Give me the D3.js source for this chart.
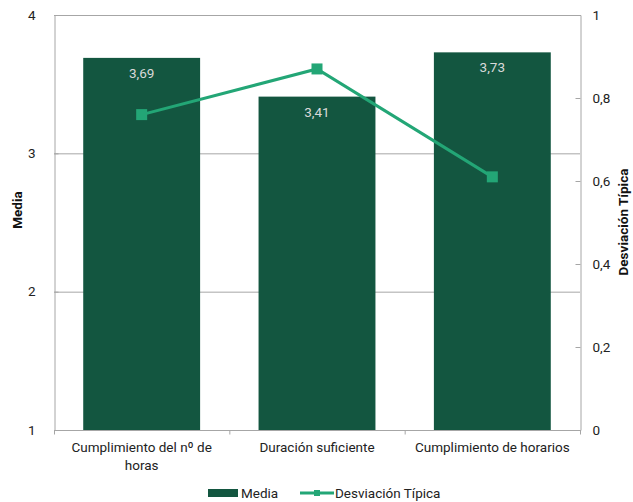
<!DOCTYPE html>
<html><head><meta charset="utf-8">
<script src="https://cdn.jsdelivr.net/npm/d3@7"></script>
<style>body{margin:0;background:#fff}svg{display:block;font-family:Roboto,"Liberation Sans",sans-serif}</style>
</head><body><svg id="c" width="633" height="502"></svg>
<script>
const categories = [["Cumplimiento del nº de","horas"],["Duración suficiente"],["Cumplimiento de horarios"]];
const mediaValues = [3.69, 3.41, 3.73];
const mediaLabels = ["3,69","3,41","3,73"];
const desviacionValues = [0.76, 0.87, 0.61];
const leftTicks = [1,2,3,4];
const rightTicks = [0,0.2,0.4,0.6,0.8,1];
const rightTickLabels = ["0","0,2","0,4","0,6","0,8","1"];

const svg = d3.select("#c");
const L = 54, R = 580, T = 15, B = 430;
const barColor = "#135640", lineColor = "#23a676", gridColor = "#a6a6a6";
const fs = 13.5;

const x = d3.scaleBand().domain(d3.range(categories.length)).range([L, R]).paddingInner(1/3).paddingOuter(1/6);
const xc = d3.scaleBand().domain(d3.range(categories.length)).range([L, R]);
const yL = d3.scaleLinear().domain([1,4]).range([B, T]);
const yR = d3.scaleLinear().domain([0,1]).range([B, T]);

// gridlines
svg.append("g").selectAll("line").data(leftTicks.filter(d=>d>1)).join("line")
  .attr("x1", L).attr("x2", R).attr("y1", d=>yL(d)+0.5).attr("y2", d=>yL(d)+0.5)
  .attr("stroke", gridColor).attr("stroke-width", 1);

// bars
svg.append("g").selectAll("rect").data(mediaValues).join("rect")
  .attr("x", (d,i)=>x(i)).attr("width", x.bandwidth())
  .attr("y", d=>yL(d)).attr("height", d=>B - yL(d)).attr("fill", barColor);

// data labels
svg.append("g").selectAll("text").data(mediaValues).join("text")
  .attr("x", (d,i)=>x(i)+x.bandwidth()/2).attr("y", d=>yL(d)+20)
  .attr("text-anchor","middle").attr("font-size", fs).attr("fill", "#d9d9d9")
  .text((d,i)=>mediaLabels[i]);

// left axis
const gL = svg.append("g").attr("transform", `translate(${L+0.5},0)`)
  .call(d3.axisLeft(yL).tickValues(leftTicks).tickSize(-4).tickFormat(d3.format("d")).tickPadding(19));
gL.select(".domain").attr("stroke", gridColor);
gL.selectAll(".tick line").attr("stroke", gridColor);
gL.selectAll("text").attr("font-size", fs).attr("fill", "#222").attr("font-family","Roboto, sans-serif");

// right axis
const gR = svg.append("g").attr("transform", `translate(${R+0.5},0)`)
  .call(d3.axisRight(yR).tickValues(rightTicks).tickSize(-5).tickPadding(12).tickFormat((d,i)=>rightTickLabels[i]));
gR.select(".domain").attr("stroke", gridColor);
gR.selectAll(".tick line").attr("stroke", gridColor);
gR.selectAll("text").attr("font-size", fs).attr("fill", "#222").attr("font-family","Roboto, sans-serif");

// bottom axis
const gB = svg.append("g").attr("transform", `translate(0,${B+0.5})`);
gB.append("line").attr("x1", L).attr("x2", R).attr("stroke", gridColor);
gB.selectAll(".tk").data(d3.range(categories.length+1)).join("line")
  .attr("x1", i=>L + i*xc.step()+0.5).attr("x2", i=>L + i*xc.step()+0.5)
  .attr("y1", 0).attr("y2", 4).attr("stroke", gridColor);
const lab = gB.selectAll(".lab").data(categories).join("text")
  .attr("text-anchor","middle").attr("font-size", fs).attr("fill","#222");
lab.each(function(lines,i){
  const t = d3.select(this);
  lines.forEach((s,j)=>t.append("tspan").attr("x", xc(i)+xc.bandwidth()/2).attr("y", 21 + j*18).text(s));
});

// line series
const line = d3.line().x((d,i)=>x(i)+x.bandwidth()/2).y(d=>yR(d));
svg.append("path").datum(desviacionValues).attr("d", line)
  .attr("fill","none").attr("stroke", lineColor).attr("stroke-width", 3);
svg.append("g").selectAll("rect").data(desviacionValues).join("rect")
  .attr("x",(d,i)=>x(i)+x.bandwidth()/2-5.5).attr("y", d=>yR(d)-5.5)
  .attr("width",11).attr("height",11).attr("fill", lineColor);

// axis titles
svg.append("text").attr("transform",`translate(22,210) rotate(-90)`)
  .attr("text-anchor","middle").attr("font-size",13.5).attr("font-weight","bold").attr("fill","#111").text("Media");
svg.append("text").attr("transform",`translate(628,222) rotate(-90)`)
  .attr("text-anchor","middle").attr("font-size",13.5).attr("font-weight","bold").attr("fill","#111").text("Desviación Típica");

// legend
const lg = svg.append("g").attr("transform","translate(0,493)");
lg.append("rect").attr("x",208).attr("y",-4).attr("width",30).attr("height",8).attr("fill",barColor);
lg.append("text").attr("x",241).attr("y",5).attr("font-size",fs).attr("fill","#222").text("Media");
lg.append("line").attr("x1",300).attr("x2",334).attr("y1",0).attr("y2",0).attr("stroke",lineColor).attr("stroke-width",3);
lg.append("rect").attr("x",314).attr("y",-3).attr("width",6).attr("height",6).attr("fill",lineColor);
lg.append("text").attr("x",335).attr("y",5).attr("font-size",fs).attr("fill","#222").text("Desviación Típica");
</script></body></html>
